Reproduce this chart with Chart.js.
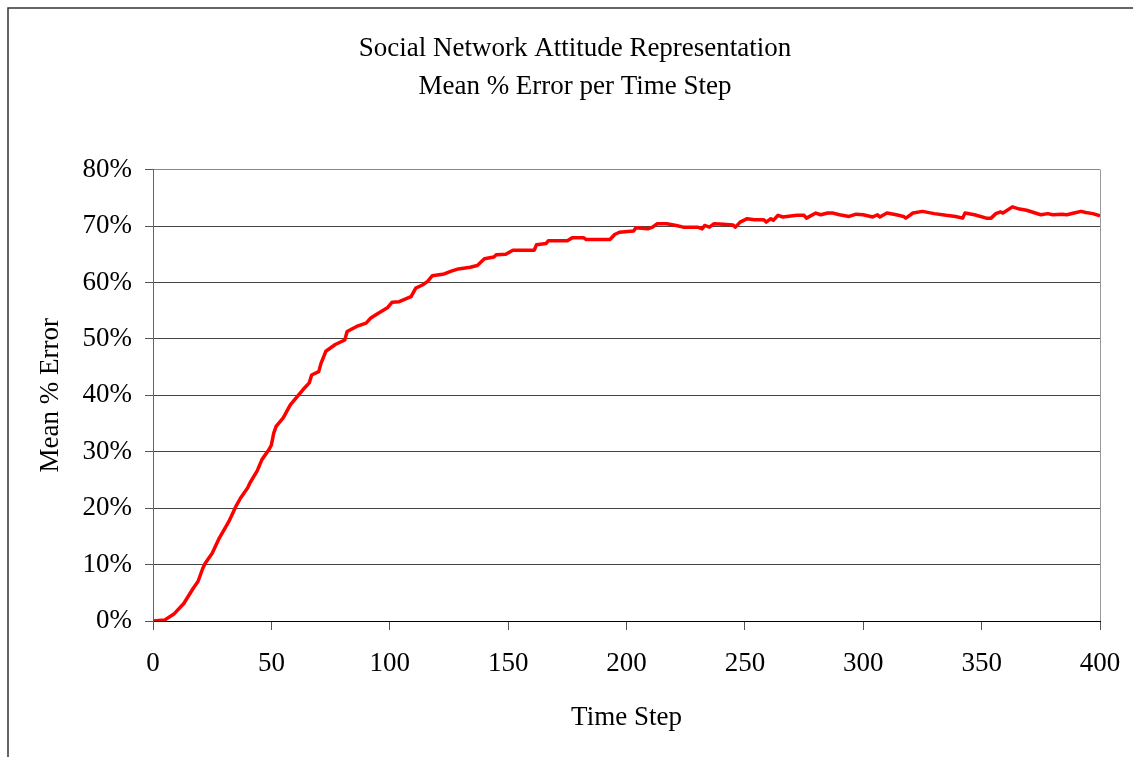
<!DOCTYPE html>
<html>
<head>
    <title>Social Network Attitude Representation</title>
    <script src="https://cdn.jsdelivr.net/npm/chart.js"></script>
    <style>
        body { margin: 0; background: #fff; }
        canvas { display: block; }
    </style>
</head>
<body>
    <canvas id="chart" width="1133" height="757"></canvas>

    <script>
        // values
        const timeSteps = [0, 5, 9, 13, 17, 19, 21, 22, 25, 28, 32, 35, 37, 40, 41, 44, 46, 49, 50, 51,
            52, 55, 58, 61, 64, 66, 67, 70, 71, 73, 77, 81, 82, 86, 90, 92, 95, 99, 101, 104,
            109, 111, 114, 116, 118, 123, 126, 129, 134, 137, 140, 144, 145, 149, 152, 161, 162, 166, 167, 175,
            177, 182, 183, 193, 195, 197, 203, 204, 209, 211, 213, 217, 221, 224, 230, 232, 233, 235, 237, 241,
            245, 246, 248, 251, 254, 258, 259, 261, 262, 264, 266, 272, 275, 276, 280, 282, 285, 287, 290, 294,
            297, 300, 304, 306, 307, 310, 314, 317, 318, 321, 325, 330, 335, 339, 342, 343, 347, 352, 354, 356,
            358, 359, 363, 366, 369, 372, 375, 378, 380, 384, 386, 389, 392, 394, 397, 400];
        const meanErrorPct = [0, 0.2, 1.3, 3.1, 5.8, 7.0, 9.3, 10.2, 12.0, 14.7, 17.6, 20.3, 21.8, 23.6, 24.5, 26.6, 28.6, 30.4, 31.2, 33.3,
            34.5, 36.0, 38.3, 39.8, 41.3, 42.2, 43.6, 44.2, 45.7, 47.8, 49.0, 49.8, 51.3, 52.2, 52.8, 53.7, 54.5, 55.5, 56.5, 56.6,
            57.5, 59.0, 59.6, 60.2, 61.2, 61.5, 62.0, 62.4, 62.7, 63.0, 64.2, 64.5, 64.9, 65.0, 65.7, 65.7, 66.7, 66.9, 67.4, 67.4,
            67.9, 67.9, 67.6, 67.6, 68.5, 68.9, 69.1, 69.7, 69.5, 69.8, 70.4, 70.4, 70.1, 69.8, 69.8, 69.5, 70.1, 69.8, 70.4, 70.3,
            70.2, 69.8, 70.7, 71.3, 71.1, 71.1, 70.7, 71.3, 71.0, 71.9, 71.6, 71.9, 71.9, 71.4, 72.3, 72.0, 72.3, 72.3, 72.0, 71.7,
            72.1, 72.0, 71.6, 72.0, 71.6, 72.3, 72.0, 71.7, 71.4, 72.3, 72.6, 72.2, 71.9, 71.7, 71.4, 72.3, 72.0, 71.4, 71.4, 72.2,
            72.5, 72.3, 73.4, 73.0, 72.8, 72.4, 72.0, 72.2, 72.0, 72.1, 72.0, 72.3, 72.6, 72.4, 72.2, 71.8];
        const chartTitle = ['Social Network Attitude Representation', 'Mean % Error per Time Step'];
        const xTitle = 'Time Step';
        const yTitle = 'Mean % Error';

        const serif = 'Liberation Serif, Times New Roman, serif';

        // dark frame around the whole picture (left and top edges show)
        const frame = {
            id: 'frame',
            beforeDraw(chart) {
                const c = chart.ctx;
                c.save();
                c.strokeStyle = '#333';
                c.lineWidth = 1.5;
                c.beginPath();
                c.moveTo(8, chart.height);
                c.lineTo(8, 8);
                c.lineTo(chart.width, 8);
                c.stroke();
                c.restore();
            }
        };

        const ctx = document.getElementById('chart').getContext('2d');
        const chart = new Chart(ctx, {
            type: 'line',
            data: {
                datasets: [{
                    label: yTitle,
                    data: timeSteps.map((t, i) => ({ x: t, y: meanErrorPct[i] })),
                    borderColor: '#ff0000',
                    borderWidth: 3.5,
                    borderJoinStyle: 'round',
                    pointRadius: 0,
                    tension: 0,
                    fill: false
                }]
            },
            options: {
                responsive: false,
                animation: false,
                layout: { padding: { left: 50, right: 33, top: 0, bottom: 0 } },
                plugins: {
                    legend: { display: false },
                    tooltip: { enabled: false },
                    title: {
                        display: true,
                        text: chartTitle,
                        color: '#000',
                        font: { family: serif, size: 27, weight: 'normal', lineHeight: 1.4 },
                        padding: { top: 30, bottom: 64 }
                    }
                },
                scales: {
                    x: {
                        type: 'linear',
                        min: 0,
                        max: 400,
                        afterFit(scale) { scale.height = 136; },
                        ticks: {
                            stepSize: 50,
                            color: '#000',
                            padding: 12,
                            font: { family: serif, size: 27, lineHeight: 1.6 }
                        },
                        grid: {
                            color: c => c.tick && c.tick.value === 400 ? '#999' : 'rgba(0,0,0,0)',
                            tickColor: '#555',
                            tickLength: 9
                        },
                        border: { display: true, color: '#000', width: 1 },
                        title: {
                            display: true,
                            text: xTitle,
                            color: '#000',
                            font: { family: serif, size: 27, lineHeight: 1.2 },
                            padding: { top: 0, bottom: 23 }
                        }
                    },
                    y: {
                        min: 0,
                        max: 80,
                        afterFit(scale) { scale.width = 103; },
                        ticks: {
                            stepSize: 10,
                            color: '#000',
                            padding: 13,
                            font: { family: serif, size: 27 },
                            callback: v => v + '%'
                        },
                        grid: {
                            color: c => c.tick && c.tick.value === 80 ? '#888' : '#444',
                            tickColor: '#555',
                            tickLength: 8
                        },
                        border: { display: true, color: '#666', width: 1 },
                        title: {
                            display: true,
                            text: yTitle,
                            color: '#000',
                            font: { family: serif, size: 27, lineHeight: 1.2 },
                            padding: { top: -15, bottom: 0 }
                        }
                    }
                }
            },
            plugins: [frame]
        });
    </script>
</body>
</html>
